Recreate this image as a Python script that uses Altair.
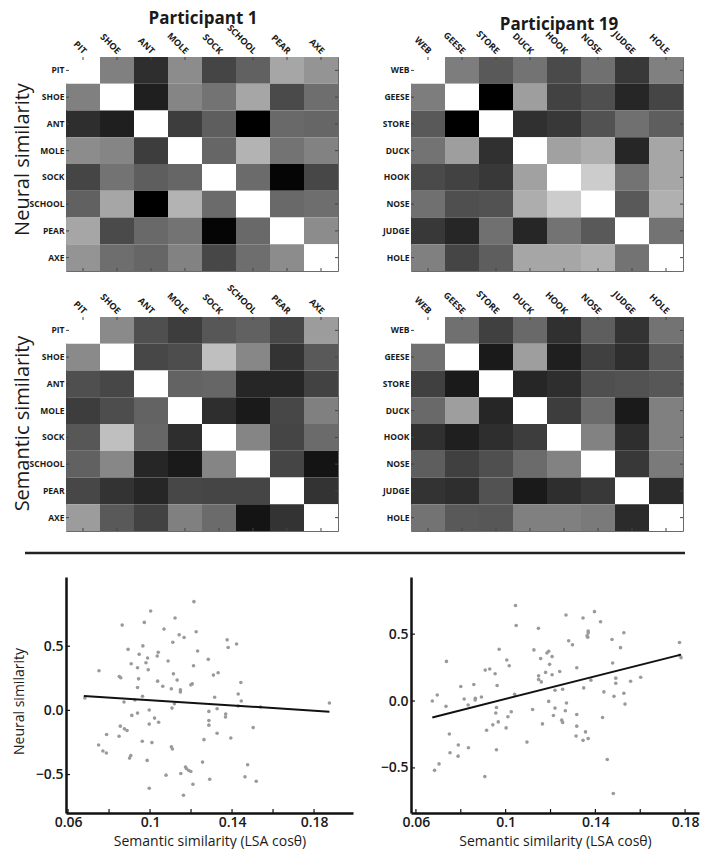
import altair as alt
import pandas as pd

# ---------------- data ----------------
P1_WORDS = ["PIT", "SHOE", "ANT", "MOLE", "SOCK", "SCHOOL", "PEAR", "AXE"]
P19_WORDS = ["WEB", "GEESE", "STORE", "DUCK", "HOOK", "NOSE", "JUDGE", "HOLE"]

# grey level of each cell (0 = black, 1 = white)
P1_NEURAL = [
    [1.00, 0.50, 0.18, 0.55, 0.27, 0.38, 0.65, 0.58],
    [0.50, 1.00, 0.12, 0.52, 0.45, 0.65, 0.29, 0.43],
    [0.18, 0.12, 1.00, 0.24, 0.37, 0.00, 0.41, 0.40],
    [0.55, 0.52, 0.24, 1.00, 0.40, 0.70, 0.45, 0.51],
    [0.27, 0.45, 0.37, 0.40, 1.00, 0.42, 0.02, 0.28],
    [0.38, 0.65, 0.00, 0.70, 0.42, 1.00, 0.41, 0.43],
    [0.65, 0.29, 0.41, 0.45, 0.02, 0.41, 1.00, 0.55],
    [0.58, 0.43, 0.40, 0.51, 0.28, 0.43, 0.55, 1.00],
]
P19_NEURAL = [
    [1.00, 0.49, 0.35, 0.45, 0.29, 0.44, 0.22, 0.50],
    [0.49, 1.00, 0.00, 0.62, 0.26, 0.31, 0.15, 0.27],
    [0.35, 0.00, 1.00, 0.19, 0.22, 0.32, 0.44, 0.37],
    [0.45, 0.62, 0.19, 1.00, 0.63, 0.68, 0.15, 0.65],
    [0.29, 0.26, 0.22, 0.63, 1.00, 0.80, 0.45, 0.65],
    [0.44, 0.31, 0.32, 0.68, 0.80, 1.00, 0.35, 0.69],
    [0.22, 0.15, 0.44, 0.15, 0.45, 0.35, 1.00, 0.45],
    [0.50, 0.27, 0.37, 0.65, 0.65, 0.69, 0.45, 1.00],
]
P1_SEMANTIC = [
    [1.00, 0.54, 0.31, 0.24, 0.34, 0.38, 0.28, 0.61],
    [0.54, 1.00, 0.28, 0.30, 0.75, 0.53, 0.20, 0.35],
    [0.31, 0.28, 1.00, 0.39, 0.40, 0.15, 0.15, 0.26],
    [0.24, 0.30, 0.39, 1.00, 0.18, 0.10, 0.28, 0.50],
    [0.34, 0.75, 0.40, 0.18, 1.00, 0.52, 0.27, 0.42],
    [0.38, 0.53, 0.15, 0.10, 0.52, 1.00, 0.27, 0.08],
    [0.28, 0.20, 0.15, 0.28, 0.27, 0.27, 1.00, 0.20],
    [0.61, 0.35, 0.26, 0.50, 0.42, 0.08, 0.20, 1.00],
]
P19_SEMANTIC = [
    [1.00, 0.44, 0.25, 0.41, 0.19, 0.37, 0.20, 0.45],
    [0.44, 1.00, 0.10, 0.62, 0.12, 0.25, 0.18, 0.35],
    [0.25, 0.10, 1.00, 0.15, 0.18, 0.31, 0.32, 0.34],
    [0.41, 0.62, 0.15, 1.00, 0.24, 0.42, 0.10, 0.50],
    [0.19, 0.12, 0.18, 0.24, 1.00, 0.51, 0.18, 0.50],
    [0.37, 0.25, 0.31, 0.42, 0.51, 1.00, 0.22, 0.48],
    [0.20, 0.18, 0.32, 0.10, 0.18, 0.22, 1.00, 0.17],
    [0.45, 0.35, 0.34, 0.50, 0.50, 0.48, 0.17, 1.00],
]

# scatter, participant 1
P1_X = [0.1214, 0.1003, 0.0864, 0.1122, 0.0972, 0.1068, 0.1225, 0.1142, 0.1166, 0.1376,
        0.1422, 0.1111, 0.0965, 0.1381, 0.0893, 0.1232, 0.1040, 0.0947, 0.1035, 0.0988,
        0.1284, 0.1088, 0.0908, 0.0980, 0.0939, 0.1212, 0.0991, 0.0751, 0.1332, 0.1114,
        0.1309, 0.0850, 0.0857, 0.0944, 0.1132, 0.1037, 0.1443, 0.1206, 0.1199, 0.1062,
        0.0939, 0.1104, 0.1148, 0.1148, 0.1430, 0.0963, 0.1315, 0.0682, 0.0873, 0.0926,
        0.1445, 0.1119, 0.1875, 0.1107, 0.1430, 0.1539, 0.1327, 0.0996, 0.1287, 0.0939,
        0.0911, 0.1369, 0.1368, 0.1022, 0.1042, 0.1287, 0.0996, 0.1287, 0.0855, 0.0875,
        0.0888, 0.1503, 0.0788, 0.1327, 0.0849, 0.1394, 0.1263, 0.0962, 0.1009, 0.0749,
        0.1104, 0.1109, 0.0770, 0.0787, 0.0906, 0.0900, 0.0986, 0.1256, 0.1476, 0.1173,
        0.1178, 0.1189, 0.1199, 0.1150, 0.1078, 0.1463, 0.1291, 0.1518, 0.1209, 0.0996,
        0.1163]
P1_Y = [0.848, 0.775, 0.665, 0.720, 0.686, 0.634, 0.613, 0.589, 0.568, 0.550,
        0.518, 0.531, 0.503, 0.490, 0.476, 0.463, 0.453, 0.437, 0.424, 0.408,
        0.398, 0.385, 0.364, 0.372, 0.332, 0.348, 0.317, 0.309, 0.293, 0.285,
        0.275, 0.264, 0.254, 0.246, 0.236, 0.228, 0.217, 0.207, 0.199, 0.188,
        0.178, 0.168, 0.160, 0.144, 0.128, 0.110, 0.102, 0.097, 0.065, 0.081,
        0.073, 0.052, 0.058, 0.018, 0.034, 0.026, 0.013, 0.003, -0.008, -0.021,
        -0.039, -0.029, -0.052, -0.060, -0.092, -0.079, -0.107, -0.115, -0.123, -0.144,
        -0.157, -0.134, -0.188, -0.178, -0.202, -0.215, -0.228, -0.241, -0.251, -0.270,
        -0.283, -0.301, -0.317, -0.332, -0.353, -0.372, -0.390, -0.403, -0.424, -0.442,
        -0.455, -0.469, -0.476, -0.492, -0.505, -0.518, -0.537, -0.552, -0.576, -0.607,
        -0.662]
P1_FIT_X = [0.0677, 0.1875]
P1_FIT_Y = [0.113, -0.010]

# scatter, participant 19
P19_X = [0.1044, 0.1396, 0.1269, 0.1345, 0.1423, 0.1047, 0.1146, 0.1368, 0.1368, 0.1527,
         0.1363, 0.1366, 0.1474, 0.1281, 0.1298, 0.1775, 0.1512, 0.0971, 0.1126, 0.1192,
         0.1184, 0.1207, 0.1156, 0.1005, 0.0736, 0.1477, 0.1196, 0.1016, 0.1317, 0.0929,
         0.0909, 0.1241, 0.1178, 0.0953, 0.1207, 0.1147, 0.1602, 0.1147, 0.1491, 0.1159,
         0.1380, 0.1557, 0.1491, 0.0858, 0.0800, 0.0962, 0.1348, 0.1220, 0.1254, 0.1438,
         0.0695, 0.1527, 0.1040, 0.1483, 0.0892, 0.0865, 0.0815, 0.0864, 0.0673, 0.1192,
         0.1271, 0.0833, 0.1532, 0.0734, 0.0959, 0.1220, 0.1120, 0.1266, 0.1025, 0.0956,
         0.1317, 0.1213, 0.1010, 0.1432, 0.1250, 0.1254, 0.0967, 0.0943, 0.1164, 0.1317,
         0.1002, 0.0915, 0.1356, 0.0749, 0.1314, 0.1368, 0.1345, 0.1095, 0.0789, 0.0834,
         0.0959, 0.0752, 0.0788, 0.1453, 0.0703, 0.0683, 0.0907, 0.1480, 0.1782, 0.1775]
P19_Y = [0.714, 0.668, 0.643, 0.621, 0.593, 0.565, 0.543, 0.523, 0.508, 0.510,
         0.487, 0.477, 0.460, 0.450, 0.420, 0.437, 0.399, 0.387, 0.382, 0.372,
         0.359, 0.332, 0.317, 0.307, 0.296, 0.284, 0.274, 0.264, 0.249, 0.239,
         0.231, 0.221, 0.214, 0.204, 0.196, 0.188, 0.178, 0.161, 0.171, 0.143,
         0.156, 0.148, 0.133, 0.123, 0.108, 0.116, 0.098, 0.080, 0.088, 0.068,
         0.045, 0.058, 0.050, 0.035, 0.030, 0.020, 0.015, 0.008, 0.000, -0.003,
         -0.015, -0.030, -0.023, -0.040, -0.048, -0.053, -0.063, -0.073, -0.080, -0.090,
         -0.101, -0.108, -0.118, -0.123, -0.143, -0.161, -0.156, -0.178, -0.171, -0.188,
         -0.201, -0.219, -0.231, -0.246, -0.261, -0.281, -0.294, -0.307, -0.329, -0.349,
         -0.364, -0.387, -0.412, -0.437, -0.470, -0.518, -0.565, -0.691, 0.324, 0.342]
P19_FIT_X = [0.0673, 0.1782]
P19_FIT_Y = [-0.123, 0.347]

X_TICKS = [0.06, 0.08, 0.10, 0.12, 0.14, 0.16, 0.18]
Y_TICKS = [-0.5, 0.0, 0.5]

# ---------------- style ----------------
FONT = "Open Sans"
TXT = "#1a1a1a"
HM_W, HM_H = 272, 214
SC_H = 236
TICK = 3


def heatmap(words, mat, title=None, title_dx=5, row_title=None, row_title_y=100, divider=False):
    df = pd.DataFrame([{"row": words[i], "col": words[j], "v": mat[i][j]}
                       for i in range(len(words)) for j in range(len(words))])
    wdf_x = pd.DataFrame({"col": words})
    wdf_y = pd.DataFrame({"row": words})
    yax = dict(orient="left", labelFont=FONT, labelFontSize=8.5, labelFontWeight="bold",
               labelColor=TXT, ticks=False, domain=False, labelPadding=2)
    if row_title:
        yax.update(title=row_title, titleFont=FONT, titleFontSize=20, titleFontWeight="normal",
                   titleColor=TXT, titleAngle=270, titleX=-38, titleY=row_title_y,
                   titleAlign="center", titleBaseline="alphabetic")
    else:
        yax["title"] = ""
    X = alt.X("col:N", sort=words, scale=alt.Scale(paddingInner=0, paddingOuter=0),
              axis=alt.Axis(orient="top", title="", labelAngle=45, labelAlign="right",
                            labelBaseline="middle", labelPadding=5, labelOffset=2,
                            ticks=False, domain=False, labelFont=FONT, labelFontSize=9,
                            labelFontWeight="bold", labelColor=TXT))
    Y = alt.Y("row:N", sort=words, scale=alt.Scale(paddingInner=0, paddingOuter=0),
              axis=alt.Axis(**yax))
    rect = alt.Chart(df).mark_rect().encode(
        x=X, y=Y,
        color=alt.Color("v:Q", scale=alt.Scale(domain=[0, 1], range=["#000000", "#ffffff"],
                                               interpolate="rgb"), legend=None),
    )
    tick_style = dict(color="#444", strokeWidth=1)
    t_top = alt.Chart(wdf_x).mark_rule(**tick_style).encode(
        x=X, y=alt.value(0), y2=alt.value(TICK))
    t_bot = alt.Chart(wdf_x).mark_rule(**tick_style).encode(
        x=X, y=alt.value(HM_H - TICK), y2=alt.value(HM_H))
    t_left = alt.Chart(wdf_y).mark_rule(**tick_style).encode(
        y=Y, x=alt.value(0), x2=alt.value(TICK))
    t_right = alt.Chart(wdf_y).mark_rule(**tick_style).encode(
        y=Y, x=alt.value(HM_W - TICK), x2=alt.value(HM_W))
    layers = [rect, t_top, t_bot, t_left, t_right]
    if divider:
        rule = alt.Chart(pd.DataFrame({"d": [0]})).mark_rule(
            color="#222", strokeWidth=2.5).encode(
            x=alt.value(-41), x2=alt.value(619), y=alt.value(HM_H + 22))
        layers.append(rule)
    ch = alt.layer(*layers).properties(
        width=HM_W, height=HM_H, view=alt.ViewBackground(stroke="#6a6a6a", strokeWidth=1))
    if title:
        ch = ch.properties(title=alt.TitleParams(title, font=FONT, fontSize=17, fontWeight="bold",
                                                 color=TXT, anchor="middle", frame="group",
                                                 dx=title_dx, offset=-5))
    return ch


def scatter(xs, ys, fx, fy, xdom, ydom, width, height, ytitle):
    pts = pd.DataFrame({"x": xs, "y": ys})
    fit = pd.DataFrame({"x": fx, "y": fy})
    xt = pd.DataFrame({"x": X_TICKS})
    yt = pd.DataFrame({"y": Y_TICKS})
    xsc = alt.Scale(domain=xdom, nice=False, zero=False)
    ysc = alt.Scale(domain=ydom, nice=False, zero=False)
    xax = alt.Axis(values=X_TICKS, grid=False, ticks=False, domainColor="#111", domainWidth=2.5,
                   labelExpr="round(datum.value*100) % 4 == 2 ? format(datum.value, '.2~f') : ''",
                   labelFont=FONT, labelFontSize=14, labelFontWeight=600, labelColor=TXT,
                   labelPadding=2, labelFlush=False, labelOverlap=False,
                   title="Semantic similarity (LSA cos\u03b8)", titleFont=FONT, titleFontSize=14,
                   titleFontWeight="normal", titleColor=TXT, titlePadding=5)
    yax_kw = dict(values=Y_TICKS, format=".1f", grid=False, ticks=False, domainColor="#111",
                  domainWidth=2.5, labelFont=FONT, labelFontSize=14, labelFontWeight=600,
                  labelColor=TXT, labelPadding=3, labelFlush=False, labelOverlap=False)
    if ytitle:
        yax_kw.update(title=ytitle, titleFont=FONT, titleFontSize=14, titleFontWeight="normal",
                      titleColor=TXT, titleAngle=270, titleX=-43, titleY=124,
                      titleAlign="center", titleBaseline="alphabetic")
    else:
        yax_kw["title"] = ""
    yax = alt.Axis(**yax_kw)
    X = alt.X("x:Q", scale=xsc, axis=xax)
    Y = alt.Y("y:Q", scale=ysc, axis=yax)
    dots = alt.Chart(pts).mark_circle(size=13, color="#9a9a9a", opacity=1).encode(x=X, y=Y)
    line = alt.Chart(fit).mark_line(color="#111", strokeWidth=2).encode(x=X, y=Y)
    xticks = alt.Chart(xt).mark_rule(color="#111", strokeWidth=1.2).encode(
        x=X, y=alt.value(height), y2=alt.value(height - 4))
    yticks = alt.Chart(yt).mark_rule(color="#111", strokeWidth=1.2).encode(
        y=Y, x=alt.value(0), x2=alt.value(4))
    return alt.layer(dots, line, xticks, yticks).properties(
        width=width, height=height, view=alt.ViewBackground(stroke="transparent"))


h1 = heatmap(P1_WORDS, P1_NEURAL, title="Participant 1", title_dx=1,
             row_title="Neural similarity", row_title_y=102)
h2 = heatmap(P19_WORDS, P19_NEURAL, title="Participant 19", title_dx=12)
h3 = heatmap(P1_WORDS, P1_SEMANTIC, row_title="Semantic similarity", row_title_y=106,
             divider=True)
h4 = heatmap(P19_WORDS, P19_SEMANTIC)

s1 = scatter(P1_X, P1_Y, P1_FIT_X, P1_FIT_Y, [0.0590, 0.1990], [-0.80, 1.04], 287, SC_H,
             "Neural similarity")
s2 = scatter(P19_X, P19_Y, P19_FIT_X, P19_FIT_Y, [0.0578, 0.1862], [-0.837, 0.927], 288, SC_H,
             None)

chart = alt.concat(h1, h2, h3, h4, s1, s2, columns=2,
                   spacing=alt.RowColnumber(row=46, column=58), bounds="flush").properties(
    padding={"top": 1, "left": 3, "right": 0, "bottom": 0}, background="white"
).configure(font=FONT)

chart.save("out.html", embed_options={"renderer": "svg", "actions": False})
